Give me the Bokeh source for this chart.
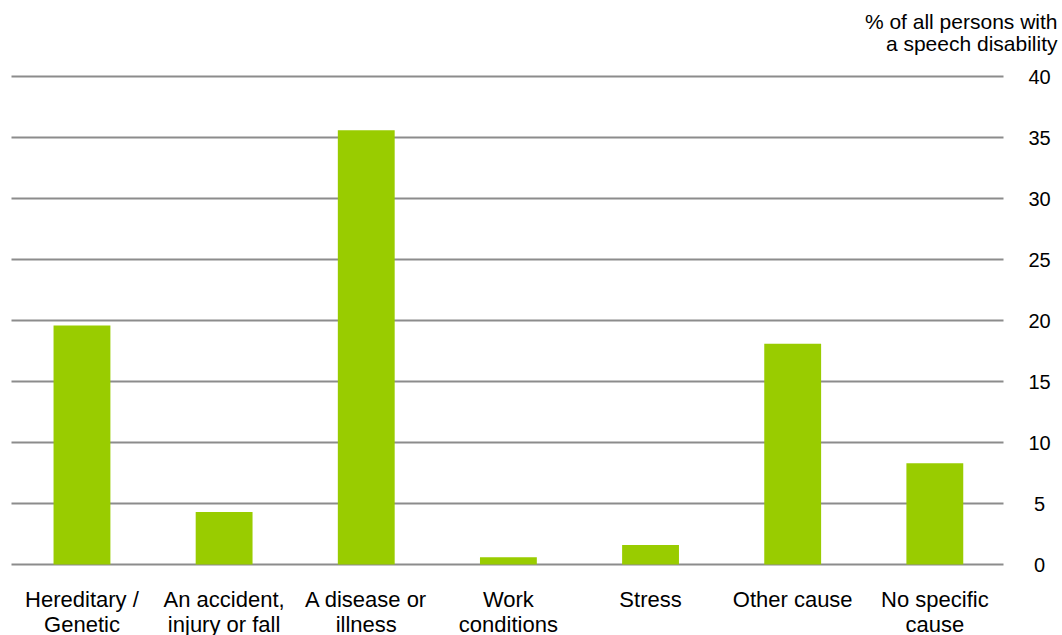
from bokeh.plotting import figure
from bokeh.models import Range1d, ColumnDataSource
from bokeh.core.properties import value
from bokeh.embed import file_html
from bokeh.resources import INLINE

categories_line1 = ["Hereditary /", "An accident,", "A disease or", "Work", "Stress", "Other cause", "No specific"]
categories_line2 = ["Genetic", "injury or fall", "illness", "conditions", "", "", "cause"]
values = [19.6, 4.3, 35.6, 0.6, 1.6, 18.1, 8.3]
y_ticks = [0, 5, 10, 15, 20, 25, 30, 35, 40]
axis_title = ["% of all persons with", "a speech disability"]

FONT = "Liberation Sans"
W, H = 1062, 635
N = len(values)
Y_MAX = 40

# layout (pixels in the canvas)
PLOT_L, PLOT_R = 10.4, 1005.4      # extent of the category band
Y0_PX, YMAX_PX = 564.0, 76.0       # pixel rows of value 0 and value 40
GRID_L, GRID_R = 11.0, 1003.0
px_x = (PLOT_R - PLOT_L) / N
px_y = (Y0_PX - YMAX_PX) / Y_MAX

def dx(px):
    return (px - PLOT_L) / px_x

def dy(py):
    return (Y0_PX - py) / px_y

p = figure(width=W, height=H, output_backend="svg", toolbar_location=None,
           x_range=Range1d(dx(0), dx(W)), y_range=Range1d(dy(H), dy(0)),
           min_border=0, x_axis_location=None, y_axis_location=None)
p.title.visible = False
p.outline_line_color = None
p.grid.visible = False
p.background_fill_color = "white"
p.border_fill_color = "white"

# horizontal gridlines
p.segment(x0=[dx(GRID_L)] * len(y_ticks), x1=[dx(GRID_R)] * len(y_ticks),
          y0=y_ticks, y1=y_ticks, line_color="#8c8c8c", line_width=2)

xs = [i + 0.5 for i in range(N)]
src = ColumnDataSource(dict(x=xs, top=values, l1=categories_line1, l2=categories_line2))
p.vbar(x="x", top="top", bottom=0, width=0.4, source=src, fill_color="#99cc00", line_color=None)

# category labels (two lines)
for col, mid in (("l1", 598.5), ("l2", 623.5)):
    p.text(x="x", y=dy(mid), text=col, source=src, text_align="center",
           text_baseline="middle", text_font=value(FONT),
           text_font_size="22px", text_color="#000000")

# value axis labels on the right
p.text(x=[dx(1039)] * len(y_ticks), y=y_ticks, text=[str(t) for t in y_ticks],
       text_align="center", text_baseline="middle", text_font=value(FONT),
       text_font_size="20px", text_color="#000000")

# axis title
p.text(x=[dx(1057)] * 2, y=[dy(20.5), dy(42.5)], text=axis_title,
       text_align="right", text_baseline="middle", text_font=value(FONT),
       text_font_size="21px", text_color="#000000")

open("out.html", "w").write(file_html(p, INLINE))
